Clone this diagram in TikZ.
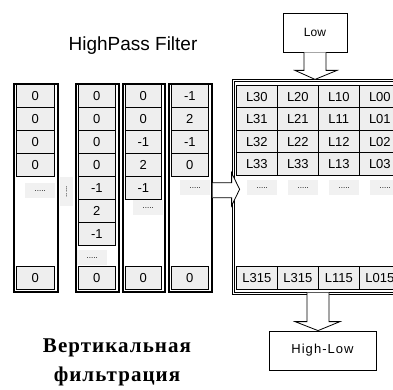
\documentclass[tikz,border=0pt]{standalone}
\usepackage{fontspec}
\setmainfont{Liberation Serif}
\setsansfont{Liberation Sans}
\usetikzlibrary{calc}
\definecolor{cellGray}{HTML}{EEEEEE}
\definecolor{dotGray}{HTML}{F1F1F1}
\tikzset{
  every node/.style={font=\sffamily\fontsize{13}{15}\selectfont},
  cell/.style={draw=black, fill=cellGray, line width=0.7pt, inner sep=0pt, anchor=north west},
  colframe/.style={draw=black, line width=1.6pt, inner sep=0pt, anchor=north west},
  matframe/.style={draw=black, line width=0.6pt, double=white, double distance=1.4pt, inner sep=0pt, anchor=north west},
  dotbox/.style={fill=dotGray, inner sep=0pt, anchor=north west, minimum width=30pt, minimum height=15pt, font=\sffamily\fontsize{8}{8}\selectfont},
  labelbox/.style={draw=black, line width=0.8pt, fill=white, inner sep=0pt},
  blockarr/.style={draw=black, fill=white, line width=0.8pt, line join=miter},
  titleline/.style={font=\sffamily\fontsize{19}{22}\selectfont},
  rutitle/.style={font=\rmfamily\bfseries\fontsize{21}{29}\selectfont\addfontfeature{LetterSpace=5}, align=center},
}

\begin{document}
\begin{tikzpicture}[x=1pt,y=-1pt]
  \useasboundingbox (0,0) rectangle (393,390);
  \clip (0,0) rectangle (393,390);
  \fill[white] (0,0) rectangle (393,390);

  % filter columns
  \node[titleline] (title) at (133,46) {HighPass Filter};
  \foreach \i/\x/\w/\vals/\dx/\dy in {1/13/44/{0,0,0,0}/25/183, 2/75/43/{0,0,0,0,-1,2,-1}/77/250,
      3/122/42/{0,0,-1,2,-1}/133/200, 4/168/43/{-1,2,-1,0}/180/180} {
    \node[colframe, minimum width=\w pt, minimum height=208pt] (col\i) at (\x,83) {};
    \foreach \v [count=\r from 0] in \vals
      \node[cell, minimum width={\w pt-6pt}, minimum height=23pt] (c\i-\r) at (\x+3,84+23*\r) {\v};
    \node[dotbox] (dots\i) at (\dx,\dy) {.....};
    \node[cell, minimum width={\w pt-6pt}, minimum height=23pt] (c\i-end) at (\x+3,266) {0};
  }
  \node[dotbox, minimum width=13pt, minimum height=29pt] (vdots) at (60,177) {};
  \node[font=\sffamily\fontsize{8}{8}\selectfont, rotate=90] at (vdots.center) {.....};

  % result matrix
  \node[matframe, minimum width=180pt, minimum height=213pt] (mat) at (233,80) {};
  \foreach \row [count=\r from 0] in {{L30,L20,L10,L00},{L31,L21,L11,L01},{L32,L22,L12,L02},{L33,L33,L13,L03}}
    \foreach \lab [count=\j from 0] in \row
      \node[cell, minimum width=41pt, minimum height=22.5pt] (m\r-\j) at (236+41*\j,85+22.5*\r) {\lab};
  \foreach \j in {0,...,3}
    \node[dotbox] (mdots\j) at (247+41*\j,180) {.....};
  \foreach \lab [count=\j from 0] in {L315,L315,L115,L015}
    \node[cell, minimum width=41pt, minimum height=22.5pt] (mend-\j) at (236+41*\j,266) {\lab};

  % low / high-low boxes
  \node[labelbox, minimum width=64pt, minimum height=39pt, font=\sffamily\fontsize{12}{14}\selectfont] (low) at (315,32.5) {Low};
  \node[labelbox, minimum width=107pt, minimum height=39pt, font=\sffamily\fontsize{13}{15}\selectfont\addfontfeature{LetterSpace=8}] (highlow) at (322.5,350.5) {High-Low};

  % block arrows
  \draw[blockarr] ($(low.south)+(-11,0)$) -- ($(low.south)+(-11,18)$) -- ($(low.south)+(-20,18)$)
    -- ($(low.south)+(0,27)$) -- ($(low.south)+(22,18)$) -- ($(low.south)+(11,18)$) -- ($(low.south)+(11,0)$);
  \draw[blockarr] ($(col4.east)+(0,-5)$) -- ($(col4.east)+(19,-5)$) -- ($(col4.east)+(19,-15)$)
    -- ($(col4.east)+(27,1.5)$) -- ($(col4.east)+(19,18)$) -- ($(col4.east)+(19,10)$) -- ($(col4.east)+(0,10)$);
  \coordinate (hltip) at ($(highlow.north)+(-4.5,0)$);
  \draw[blockarr] ($(hltip)+(-11,-38)$) -- ($(hltip)+(-11,-9)$) -- ($(hltip)+(-23,-9)$)
    -- (hltip) -- ($(hltip)+(22,-9)$) -- ($(hltip)+(11,-9)$) -- ($(hltip)+(11,-38)$);

  % caption
  \node[rutitle] (caption) at (117,362) {Вертикальная\\фильтрация};
\end{tikzpicture}
\end{document}
